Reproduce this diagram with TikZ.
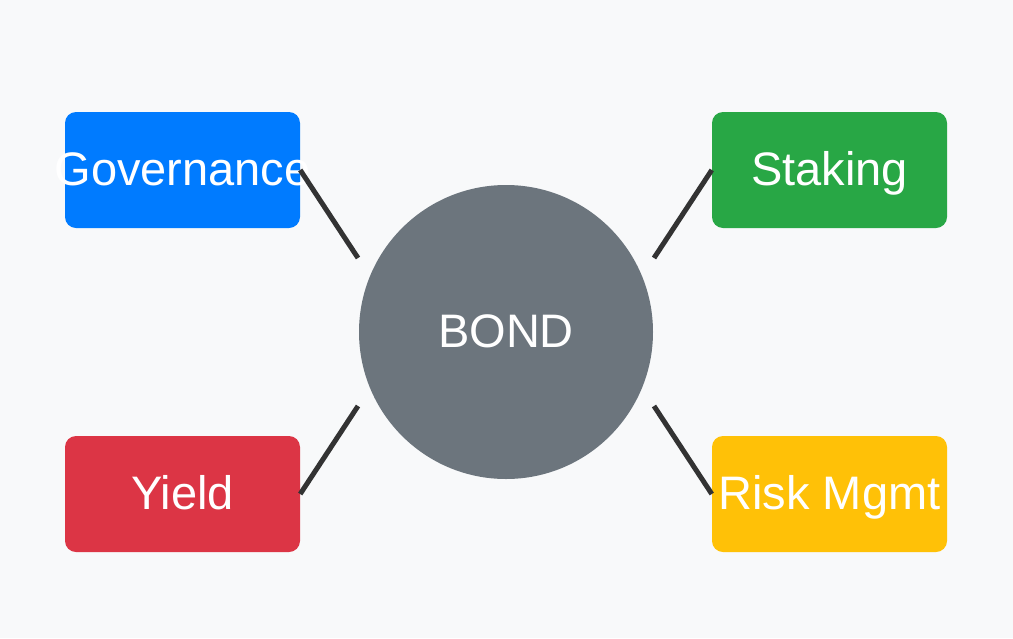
\documentclass[tikz,border=0pt]{standalone}
\usepackage{fontspec}
\setmainfont{Liberation Sans}
\usepackage{tikz}
\definecolor{pagebg}{HTML}{F8F9FA}
\definecolor{govblue}{HTML}{007BFF}
\definecolor{stakegreen}{HTML}{28A745}
\definecolor{yieldred}{HTML}{DC3545}
\definecolor{riskyellow}{HTML}{FFC107}
\definecolor{bondgray}{HTML}{6C757D}
\definecolor{linkink}{HTML}{333333}

\begin{document}
\begin{tikzpicture}[x=1pt,y=-1pt,line cap=butt,
  topic/.style={rectangle,rounded corners=11pt,minimum width=235pt,
    minimum height=116pt,inner sep=0pt,text=white,
    text height=31pt,text depth=0pt,
    font=\fontsize{47}{50}\selectfont,
    execute at begin node=\hbox to 0pt\bgroup\hss,
    execute at end node=\hss\egroup},
  link/.style={linkink,line width=5pt}]
  \fill[pagebg] (0,0) rectangle (1013,638);
  \useasboundingbox (0,0) rectangle (1013,638);

  \node[circle,fill=bondgray,minimum size=294pt,inner sep=0pt,text=white,
    text height=31pt,text depth=0pt,
    font=\fontsize{47}{50}\selectfont] (bond) at (506,332) {BOND};

  \node[topic,fill=govblue] (gov) at (182.5,170) {Governance};
  \node[topic,fill=stakegreen] (stake) at (829.5,170) {Staking};
  \node[topic,fill=yieldred] (yield) at (182.5,494) {Yield};
  \node[topic,fill=riskyellow] (risk) at (829.5,494) {Risk Mgmt};

  \coordinate (gov-end) at (358,258);
  \coordinate (stake-end) at (654,258);
  \coordinate (yield-end) at (358,406);
  \coordinate (risk-end) at (654,406);

  \draw[link] (gov.east) -- (gov-end);
  \draw[link] (stake.west) -- (stake-end);
  \draw[link] (yield.east) -- (yield-end);
  \draw[link] (risk.west) -- (risk-end);
\end{tikzpicture}
\end{document}
